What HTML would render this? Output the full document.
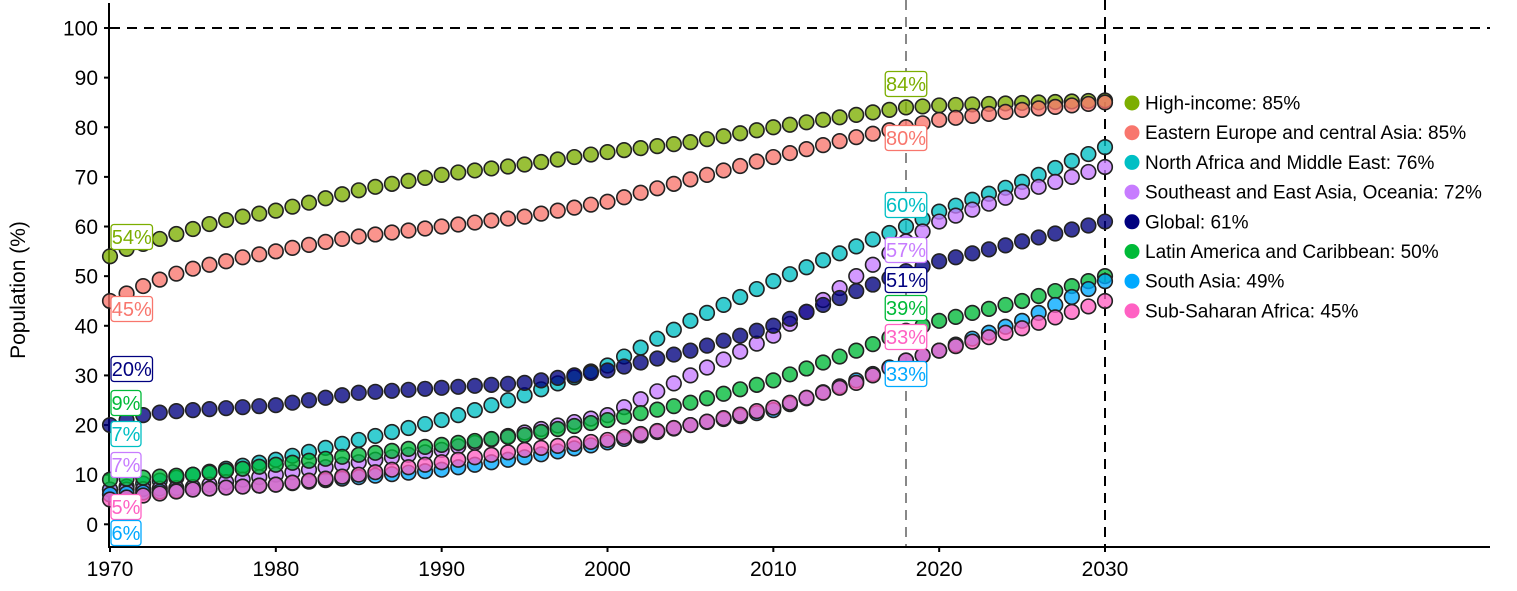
<!DOCTYPE html>
<html><head><meta charset="utf-8">
<style>
body{margin:0;background:#fff;width:1517px;height:586px;overflow:hidden}
text{font-family:"Liberation Sans",sans-serif}
</style></head>
<body>
<svg id="chart" width="1517" height="586" viewBox="0 0 1517 586" xmlns="http://www.w3.org/2000/svg"></svg>
<script>
const years = []; for (let y = 1970; y <= 2030; y++) years.push(y);
const seriesNames = ["High-income","Eastern Europe and central Asia","North Africa and Middle East","Southeast and East Asia, Oceania","Global","Latin America and Caribbean","South Asia","Sub-Saharan Africa"];
const seriesColors = ["#7cae00","#f8766d","#00bfc4","#c77cff","#00007f","#00ba38","#00a9ff","#ff61c3"];
const highIncome = [54,55.5,56.5,57.5,58.5,59.5,60.5,61.3,62,62.6,63.2,64,64.8,65.7,66.5,67.3,68,68.6,69.2,69.8,70.4,70.9,71.3,71.7,72.1,72.5,73,73.5,74,74.5,75,75.4,75.8,76.2,76.6,77,77.6,78.2,78.8,79.4,80,80.5,81,81.5,82,82.5,83,83.5,84,84.2,84.4,84.5,84.6,84.7,84.8,84.9,85,85.1,85.2,85.3,85.4];
const easternEurope = [45,46.5,48,49.3,50.5,51.5,52.3,53,53.8,54.4,55,55.7,56.3,56.9,57.5,58,58.4,58.8,59.2,59.6,60,60.4,60.8,61.2,61.6,62,62.6,63.2,63.8,64.4,65,65.9,66.8,67.7,68.6,69.5,70.4,71.3,72.2,73.1,74,74.8,75.6,76.4,77.2,78,78.7,79.4,80,80.8,81.5,81.9,82.3,82.7,83.1,83.5,83.8,84.1,84.4,84.7,85];
const northAfrica = [7,7.6,8.2,8.8,9.4,10,10.6,11.2,11.8,12.4,13,13.8,14.6,15.4,16.2,17,17.8,18.6,19.4,20.2,21,22,23,24,25,26,27.2,28.4,29.6,30.8,32,33.8,35.6,37.4,39.2,41,42.6,44.2,45.8,47.4,49,50.4,51.8,53.2,54.6,56,57.4,58.7,60,61.5,63,64.2,65.4,66.6,67.8,69,70.4,71.8,73.2,74.6,76];
const eastAsia = [7,7,7.1,7.2,7.3,7.5,8,8.5,9,9.5,10,10.5,11,11.5,12,12.5,13,13.5,14,14.5,15,15.7,16.4,17.1,17.8,18.5,19.2,19.9,20.6,21.3,22,23.6,25.2,26.8,28.4,30,31.6,33.2,34.8,36.4,38,40.4,42.8,45.2,47.6,50,52.3,54.6,57,59,61,62.2,63.4,64.6,65.8,67,68,69,70,71,72];
const globalVals = [20,21,22,22.5,22.8,23,23.2,23.4,23.6,23.8,24,24.5,25,25.5,26,26.5,26.7,26.9,27.1,27.3,27.5,27.7,27.9,28.1,28.3,28.5,29,29.5,30,30.5,31,31.8,32.6,33.4,34.2,35,36,37,38,39,40,41.4,42.8,44.2,45.6,47,48.3,49.6,51,52,53,53.8,54.6,55.4,56.2,57,57.8,58.6,59.4,60.2,61];
const latinAmerica = [9,9.2,9.4,9.6,9.8,10,10.4,10.8,11.2,11.6,12,12.4,12.8,13.2,13.6,14,14.4,14.8,15.2,15.6,16,16.4,16.8,17.2,17.6,18,18.6,19.2,19.8,20.4,21,21.7,22.4,23.1,23.8,24.5,25.4,26.3,27.2,28.1,29,30.2,31.4,32.6,33.8,35,36.3,37.6,39,40,41,41.8,42.6,43.4,44.2,45,46,47,48,49,50];
const southAsia = [6,6.2,6.4,6.6,6.8,7,7.2,7.4,7.6,7.8,8,8.3,8.6,8.9,9.2,9.5,9.8,10.1,10.4,10.7,11,11.5,12,12.5,13,13.5,14.1,14.7,15.3,15.9,16.5,17.2,17.9,18.6,19.3,20,20.6,21.2,21.8,22.4,23,24.2,25.4,26.6,27.8,29,30.3,31.6,33,34,35,36.2,37.4,38.6,39.8,41,42.6,44.2,45.8,47.4,49];
const subSaharan = [5,5.4,5.8,6.2,6.6,7,7.2,7.4,7.6,7.8,8,8.4,8.8,9.2,9.6,10,10.5,11,11.5,12,12.5,13,13.5,14,14.5,15,15.4,15.8,16.2,16.6,17,17.6,18.2,18.8,19.4,20,20.7,21.4,22.1,22.8,23.5,24.5,25.5,26.5,27.5,28.5,30,31.5,33,34,35,35.9,36.8,37.7,38.6,39.5,40.6,41.7,42.8,43.9,45];
const yTicks = [0,10,20,30,40,50,60,70,80,90,100];
const xTicks = [1970,1980,1990,2000,2010,2020,2030];
const highlightYear = 2018;
const series = [highIncome,easternEurope,northAfrica,eastAsia,globalVals,latinAmerica,southAsia,subSaharan];
// label placement (pixel centers, repelled) - layout only
const leftLabelY = [237,309,369,403,434,465,507,533];
const rightLabelY = [84,138,205,250,280,308,337,374];
const leftOrder = [0,1,4,5,2,3,7,6];
const rightOrder = [0,1,2,3,4,5,7,6];

const NS = "http://www.w3.org/2000/svg";
const svg = document.getElementById("chart");
const X0 = 110, X1 = 1105, Y0 = 524.3, Y100 = 28;
const xs = y => X0 + (y - 1970) * (X1 - X0) / 60;
const ys = v => Y0 - v * (Y0 - Y100) / 100;
function mk(tag, attrs, parent) {
  const e = document.createElementNS(NS, tag);
  for (const k in attrs) e.setAttribute(k, attrs[k]);
  (parent || svg).appendChild(e);
  return e;
}
const axes = mk("g", {});


mk("line", {x1:109, y1:3, x2:109, y2:548, stroke:"#000", "stroke-width":2}, axes);
mk("line", {x1:108, y1:547, x2:1490, y2:547, stroke:"#000", "stroke-width":2}, axes);
yTicks.forEach(t => {
  const y = ys(t);
  mk("line", {x1:104, y1:y, x2:109, y2:y, stroke:"#000", "stroke-width":2}, axes);
  const tx = mk("text", {x:98, y:y + 7.5, "text-anchor":"end", "font-size":21, fill:"#000"}, axes);
  tx.textContent = t;
  
  
});
xTicks.forEach(t => {
  const x = xs(t);
  mk("line", {x1:x, y1:547, x2:x, y2:552, stroke:"#000", "stroke-width":2}, axes);
  const tx = mk("text", {x:x, y:576, "text-anchor":"middle", "font-size":21, fill:"#000"}, axes);
  tx.textContent = t;
  
  
});
const yt = mk("text", {x:0, y:0, "text-anchor":"middle", "font-size":21, fill:"#000", transform:"translate(25,290) rotate(-90)"});
yt.textContent = "Population (%)";


const h = mk("line", {x1:110, y1:ys(100), x2:1490, y2:ys(100), stroke:"#000", "stroke-width":2, "stroke-dasharray":"10 7"});


const v1 = mk("line", {x1:xs(highlightYear), y1:0, x2:xs(highlightYear), y2:546, stroke:"#888", "stroke-width":2, "stroke-dasharray":"10 7"});


const v2 = mk("line", {x1:xs(2030), y1:0, x2:xs(2030), y2:546, stroke:"#000", "stroke-width":2, "stroke-dasharray":"10 7"});


series.forEach((vals, si) => {
  const g = mk("g", {});
  
  
  vals.forEach((v, i) => {
    const c = mk("circle", {cx:xs(years[i]), cy:ys(v), r:7.3, fill:seriesColors[si], "fill-opacity":0.78, stroke:"#222", "stroke-width":1.6}, g);
    
    
  });
});
function label(x, cy, text, color, anchorLeft) {
  const w = text.length * 11.5 + 7, hgt = 25;
  const bx = anchorLeft ? x : x - w / 2;
  const g = mk("g", {});
  
  
  mk("rect", {x:bx, y:cy - hgt / 2, width:w, height:hgt, rx:3, fill:"#fff", stroke:color, "stroke-width":1.3}, g);
  const t = mk("text", {x:bx + w / 2, y:cy + 7, "text-anchor":"middle", "font-size":20, fill:color}, g);
  t.textContent = text;
}
leftOrder.forEach((si, k) => {
  label(111, leftLabelY[k], Math.round(series[si][0]) + "%", seriesColors[si], true);
});
const hi = years.indexOf(highlightYear);
rightOrder.forEach((si, k) => {
  label(xs(highlightYear), rightLabelY[k], Math.round(series[si][hi]) + "%", seriesColors[si], false);
});
seriesNames.forEach((n, i) => {
  const y = 103 + i * 29.7;
  const g = mk("g", {});
  
  
  mk("circle", {cx:1132, cy:y, r:7.5, fill:seriesColors[i]}, g);
  const t = mk("text", {x:1145, y:y + 6.5, "font-size":19, fill:"#000"}, g);
  t.textContent = n + ": " + Math.round(series[i][series[i].length - 1]) + "%";
});
</script>
</body></html>
